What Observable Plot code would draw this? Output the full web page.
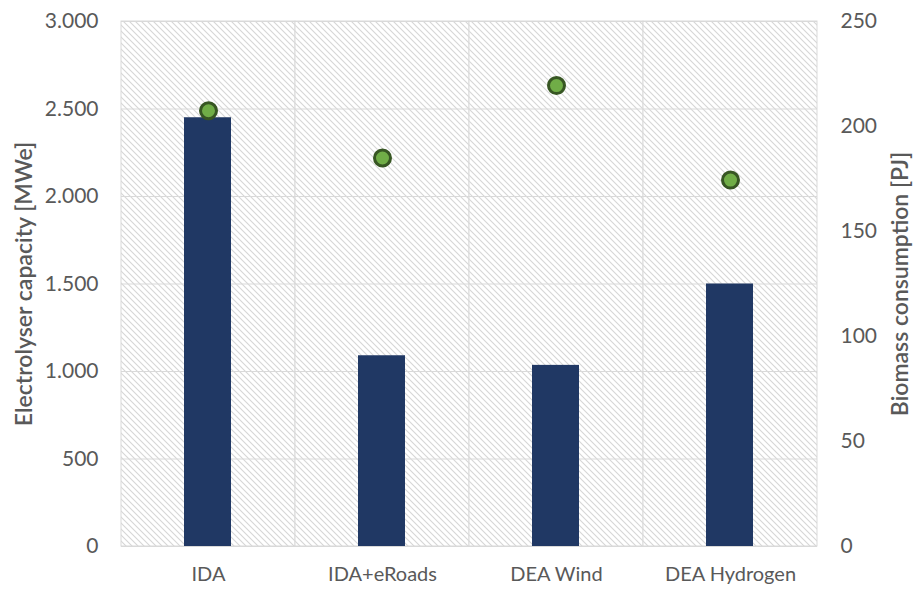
<!DOCTYPE html>
<html><head><meta charset="utf-8">
<script src="https://cdn.jsdelivr.net/npm/d3@7"></script>
<script src="https://cdn.jsdelivr.net/npm/@observablehq/plot@0.6"></script>
<style>body{margin:0;background:#fff}</style>
</head><body><div id="chart"></div>
<script>
const scenarios = ["IDA", "IDA+eRoads", "DEA Wind", "DEA Hydrogen"];
const electrolyser = [2450, 1090, 1035, 1500];
const biomass = [207.5, 185, 219.5, 174.5];
const leftTicks = [0, 500, 1000, 1500, 2000, 2500, 3000];
const rightTicks = [0, 50, 100, 150, 200, 250];
const k = 3000 / 250;
const fmt = d3.formatLocale({decimal: ",", thousands: ".", grouping: [3], currency: ["", ""]}).format(",");
const rows = scenarios.map((s, i) => ({scenario: s, electrolyser: electrolyser[i], biomass: biomass[i]}));

const plot = Plot.plot({
  width: 914, height: 590,
  marginTop: 21, marginBottom: 44, marginLeft: 121, marginRight: 97,
  style: {fontFamily: "Lato, sans-serif", fontSize: "20px", color: "#595959", background: "#fff"},
  x: {domain: scenarios, padding: 0},
  y: {domain: [0, 3000]},
  marks: [
    Plot.cell(scenarios, {x: d => d, fill: "url(#hatch)", stroke: "#d9d9d9", strokeWidth: 1}),
    Plot.gridY(leftTicks, {stroke: "#d9d9d9", strokeOpacity: 1}),
    Plot.barY(rows, {x: "scenario", y: "electrolyser", fill: "#203864", insetLeft: 63, insetRight: 64}),
    Plot.dot(rows, {x: "scenario", y: d => d.biomass * k, r: 8, fill: "#70ad47", stroke: "#375623", strokeWidth: 3}),
    Plot.axisX({tickSize: 0, tickPadding: 20, label: null}),
    Plot.axisY(leftTicks, {anchor: "left", tickSize: 0, tickPadding: 23, tickFormat: fmt, fontSize: "21px",
      label: "Electrolyser capacity [MWe]", labelAnchor: "center", labelArrow: "none", labelOffset: 106}),
    Plot.axisY(rightTicks.map(v => v * k), {anchor: "right", tickSize: 0, tickPadding: 23, tickFormat: d => fmt(d / k), fontSize: "21px",
      label: "Biomass consumption [PJ]", labelAnchor: "center", labelArrow: "none", labelOffset: 90})
  ]
});

const svg = d3.select(plot);
const defs = svg.insert("defs", ":first-child");
const pat = defs.append("pattern").attr("id", "hatch").attr("patternUnits", "userSpaceOnUse")
  .attr("width", 6).attr("height", 6);
pat.append("rect").attr("width", 6).attr("height", 6).attr("fill", "#fff");
pat.append("path").attr("d", "M-1,-1L7,7M-1,5L1,7M5,-1L7,1")
  .attr("stroke", "#d6d6d6").attr("stroke-width", 1.1);
svg.selectAll("[aria-label='y-axis label'] text").attr("font-weight", 600).attr("font-size", "23px");
document.getElementById("chart").appendChild(plot);
</script>
</body></html>
